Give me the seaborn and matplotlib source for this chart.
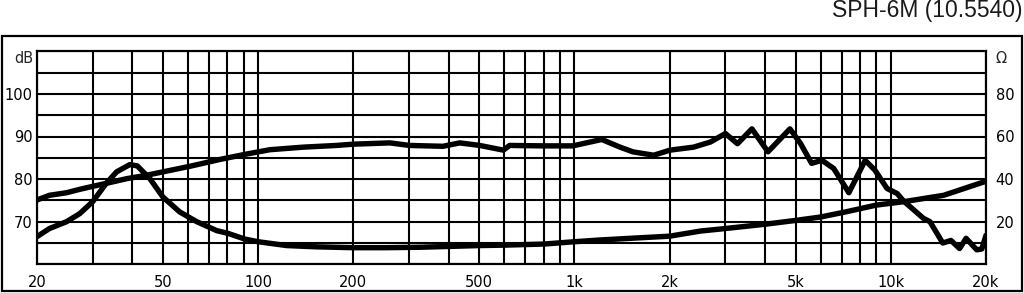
import matplotlib
matplotlib.use('Agg')
import matplotlib.pyplot as plt
import seaborn as sns
from matplotlib.patches import Rectangle

# ---------------- data ----------------
spl_freq = [20, 21.9, 24.8, 27.3, 30, 33.1, 38.4, 44.4, 50, 60.8, 75.6, 90.7, 109, 139, 177,
            200, 261, 301, 384, 434, 502, 596, 624, 796, 988, 1220, 1394, 1530, 1780, 2006,
            2380, 2690, 3000, 3276, 3640, 4090, 4800, 5180, 5620, 6060, 6600, 7370, 8300,
            8910, 9730, 10480, 10960, 12680, 13300, 14600, 15500, 16500, 17300, 18700,
            19400, 20000]
spl_db = [75.1, 76.2, 76.8, 77.6, 78.3, 79.0, 80.1, 80.9, 81.7, 83.0, 84.6, 85.8, 86.9, 87.5,
          87.9, 88.2, 88.5, 87.9, 87.7, 88.5, 87.9, 86.8, 87.9, 87.8, 87.8, 89.3, 87.5, 86.4,
          85.6, 86.8, 87.5, 88.7, 90.7, 88.3, 91.8, 86.4, 91.8, 88.4, 83.7, 84.4, 82.5, 76.8,
          84.4, 82.1, 77.8, 76.6, 74.9, 70.8, 70.0, 65.0, 65.6, 63.7, 66.1, 63.4, 63.6, 66.8]

imp_freq = [20, 21.9, 24.8, 27.3, 30, 33.1, 35.7, 39.3, 41.5, 45.5, 50, 56.5, 64, 74, 80, 91,
            100, 123, 153, 200, 254, 324, 500, 600, 800, 1000, 1200, 1500, 2000, 2500, 3000,
            4000, 5000, 6000, 7200, 9000, 11000, 14700, 20000]
imp_ohm = [13, 16.8, 20, 23.8, 29.4, 38, 43.4, 46.8, 46.2, 40.2, 31.6, 24.6, 20, 15.8, 14.6,
           11.8, 10.6, 8.8, 8.2, 7.8, 7.8, 8.0, 8.8, 9.0, 9.5, 10.6, 11.4, 12.2, 13.2, 15.6,
           16.8, 18.8, 20.6, 22.2, 24.6, 27.8, 29.4, 32.4, 39]

x_major = [20, 50, 100, 200, 500, 1000, 2000, 5000, 10000, 20000]
x_major_labels = ['20', '50', '100', '200', '500', '1k', '2k', '5k', '10k', '20k']
x_minor = [30, 40, 60, 70, 80, 90, 300, 400, 600, 700, 800, 900, 3000, 4000, 6000, 7000,
           8000, 9000]
db_ticks = [70, 80, 90, 100]
db_minor = [60, 65, 75, 85, 95, 105, 110]
ohm_ticks = [20, 40, 60, 80]
title = 'SPH-6M (10.5540)'

# ---------------- plot ----------------
sns.set_style('white')
plt.rcParams['font.family'] = ['DejaVu Sans']

W, H = 1024, 293
fig = plt.figure(figsize=(W / 100, H / 100), dpi=100)
ax = fig.add_axes([37 / W, 1 - 264.3 / H, (986 - 37) / W, (264.3 - 51.3) / H])
ax.set_xscale('log')
ax.set_xlim(20, 20000)
ax.set_ylim(60, 110)
ax.set_axisbelow(True)

ax.set_xticks(x_major)
ax.set_xticklabels(x_major_labels)
ax.set_xticks(x_minor, minor=True)
ax.set_xticklabels([], minor=True)
ax.set_yticks(db_ticks)
ax.set_yticklabels([str(v) for v in db_ticks])
ax.set_yticks(db_minor, minor=True)
ax.set_yticklabels([], minor=True)
ax.grid(True, which='both', color='black', lw=1.5)
ax.tick_params(axis='both', which='both', length=0, labelsize=10.5, colors='black')
ax.tick_params(axis='x', pad=8)
ax.tick_params(axis='y', pad=3)

sns.lineplot(x=spl_freq, y=spl_db, ax=ax, color='black', lw=3.9, estimator=None,
             solid_joinstyle='round', solid_capstyle='round')

ax2 = ax.twinx()
ax2.set_ylim(0, 100)
sns.lineplot(x=imp_freq, y=imp_ohm, ax=ax2, color='black', lw=3.9, estimator=None,
             solid_joinstyle='round', solid_capstyle='round')
ax2.set_yticks(ohm_ticks)
ax2.set_yticklabels([str(v) for v in ohm_ticks])
ax2.grid(False)
ax2.tick_params(axis='y', length=0, labelsize=10.5, pad=7, colors='black')
ax.set_xlabel('')
ax.set_ylabel('')
ax2.set_ylabel('')

for a in (ax, ax2):
    for s in a.spines.values():
        s.set_color('black')
        s.set_linewidth(1.5)

fig.text(33.3 / W, 1 - 58 / H, 'dB', ha='right', va='center', fontsize=10.5)
fig.text(996 / W, 1 - 58 / H, 'Ω', ha='left', va='center', fontsize=10.5)

fig.patches.append(Rectangle((2 / W, 1 - 290.5 / H), 1019.5 / W, (290.5 - 35.5) / H,
                             transform=fig.transFigure, fill=False, lw=1.6,
                             ec='black', figure=fig))
fig.text(1022 / W, 1 - 10 / H, title, ha='right', va='center', fontsize=16.5,
         family=['Liberation Sans', 'DejaVu Sans'], color='#1a1a1a')

fig.savefig('out.png', dpi=100)
